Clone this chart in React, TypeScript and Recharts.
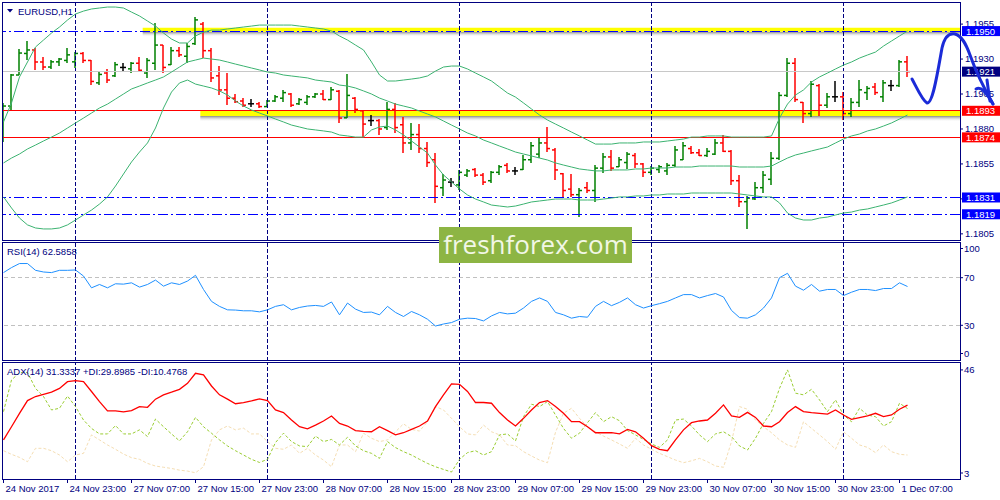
import React from "react";
import {
  ComposedChart,
  Bar,
  Line,
  XAxis,
  YAxis,
  ReferenceLine,
  ReferenceArea,
} from "recharts";

// EURUSD H1, 24 Nov 15:00 .. 1 Dec 08:00 (one entry per bar)
const xLabels = [
  "24 Nov 2017", "24 Nov 23:00", "27 Nov 07:00", "27 Nov 15:00", "27 Nov 23:00",
  "28 Nov 07:00", "28 Nov 15:00", "28 Nov 23:00", "29 Nov 07:00", "29 Nov 15:00",
  "29 Nov 23:00", "30 Nov 07:00", "30 Nov 15:00", "30 Nov 23:00", "1 Dec 07:00",
];
const labelBars = [0, 8, 16, 24, 32, 40, 48, 56, 64, 72, 80, 88, 96, 104, 112];
const daySeparators = [9, 33, 57, 81, 105];

const open = [
  1.1873, 1.18964, 1.19186, 1.1934, 1.19365, 1.19279, 1.19243, 1.1928, 1.1929, 1.1928,
  1.1934, 1.1929, 1.1913, 1.192, 1.1918, 1.1924, 1.1923, 1.1927, 1.192, 1.1927,
  1.194, 1.1926, 1.1936, 1.1932, 1.1941, 1.1955, 1.1936, 1.1918, 1.1908, 1.1902,
  1.19, 1.1898, 1.1898, 1.1896, 1.19, 1.1902, 1.1905, 1.1898, 1.1899, 1.1903,
  1.1905, 1.1901, 1.1907, 1.1888, 1.1902, 1.1893, 1.1886, 1.1886, 1.1881, 1.1894,
  1.1883, 1.187, 1.1876, 1.1866, 1.1858, 1.1838, 1.1842, 1.184, 1.1847, 1.1851,
  1.1847, 1.1843, 1.1849, 1.1854, 1.185, 1.1851, 1.1858, 1.1862, 1.187, 1.1865,
  1.1848, 1.1837, 1.1833, 1.1838, 1.1836, 1.1852, 1.186, 1.1853, 1.1856, 1.1861,
  1.1855, 1.1849, 1.1851, 1.185, 1.1854, 1.1858, 1.1866, 1.1863, 1.1861, 1.1862,
  1.187, 1.1864, 1.1843, 1.1828, 1.183, 1.1838, 1.1844, 1.1859, 1.1904, 1.1927,
  1.1899, 1.1891, 1.1911, 1.1897, 1.1903, 1.1903, 1.1891, 1.1899, 1.1906, 1.191,
  1.1903, 1.1911, 1.1911, 1.1928,
];
const high = [
  1.18986, 1.19193, 1.19372, 1.19429, 1.19379, 1.19314, 1.19293, 1.19307, 1.19379, 1.1935,
  1.1935, 1.19293, 1.19207, 1.19229, 1.19279, 1.19272, 1.19279, 1.19314, 1.19307, 1.19557,
  1.194, 1.19386, 1.19386, 1.19415, 1.19601, 1.19565, 1.19379, 1.1925, 1.192, 1.1905,
  1.19021, 1.19014, 1.18993, 1.19007, 1.19043, 1.19079, 1.19057, 1.19021, 1.19043, 1.19057,
  1.19079, 1.191, 1.19079, 1.19193, 1.19028, 1.18936, 1.189, 1.18871, 1.18993, 1.18986,
  1.18886, 1.18843, 1.18835, 1.18707, 1.18628, 1.18478, 1.18449, 1.18507, 1.18514, 1.18521,
  1.18485, 1.185, 1.18542, 1.18557, 1.18528, 1.18614, 1.18707, 1.18735, 1.18814, 1.18664,
  1.18485, 1.18478, 1.18378, 1.18421, 1.18542, 1.18628, 1.1865, 1.18599, 1.18635, 1.18628,
  1.18557, 1.18535, 1.18542, 1.18557, 1.18678, 1.18707, 1.18678, 1.18657, 1.18664, 1.18728,
  1.18757, 1.1865, 1.18471, 1.18321, 1.18421, 1.185, 1.18635, 1.19064, 1.19307, 1.19307,
  1.18993, 1.19143, 1.19121, 1.19057, 1.19143, 1.19064, 1.19021, 1.1915, 1.19107, 1.19129,
  1.1915, 1.1915, 1.19293, 1.19321,
];
const low = [
  1.18707, 1.18936, 1.19186, 1.19293, 1.19222, 1.19222, 1.19229, 1.1925, 1.19272, 1.19236,
  1.19272, 1.19114, 1.19114, 1.19129, 1.19172, 1.19207, 1.192, 1.19207, 1.19165, 1.19222,
  1.192, 1.19257, 1.19314, 1.19272, 1.194, 1.19307, 1.19136, 1.19043, 1.18971, 1.18986,
  1.18957, 1.18957, 1.1895, 1.18957, 1.18993, 1.18993, 1.18957, 1.18971, 1.18971, 1.19021,
  1.19007, 1.19007, 1.18843, 1.18878, 1.18914, 1.18742, 1.18821, 1.18757, 1.18793, 1.18771,
  1.18628, 1.1865, 1.18628, 1.18528, 1.18271, 1.18321, 1.18385, 1.18363, 1.18456, 1.18456,
  1.18399, 1.18414, 1.18471, 1.18485, 1.18471, 1.18507, 1.18557, 1.18592, 1.18635, 1.18435,
  1.18306, 1.18314, 1.1817, 1.18342, 1.18278, 1.18485, 1.185, 1.18528, 1.18514, 1.18521,
  1.18456, 1.18471, 1.18485, 1.18471, 1.18528, 1.18578, 1.18621, 1.18607, 1.186, 1.18614,
  1.18635, 1.18399, 1.18242, 1.18085, 1.18292, 1.18342, 1.18399, 1.18578, 1.19028, 1.18993,
  1.18843, 1.18886, 1.18893, 1.1895, 1.18993, 1.18864, 1.18886, 1.18957, 1.19007, 1.19043,
  1.18993, 1.19072, 1.191, 1.19172,
];
const close = [
  1.18964, 1.19186, 1.19343, 1.19365, 1.19279, 1.19243, 1.1928, 1.193, 1.1933, 1.1934,
  1.1929, 1.1914, 1.1919, 1.1915, 1.1926, 1.1924, 1.1927, 1.1922, 1.1929, 1.194,
  1.1924, 1.1936, 1.1933, 1.1939, 1.1958, 1.1936, 1.19165, 1.19079, 1.1902, 1.18995,
  1.1897, 1.1898, 1.1896, 1.19, 1.1903, 1.1906, 1.1897, 1.1901, 1.1903, 1.1905,
  1.1901, 1.1908, 1.18878, 1.1904, 1.1894, 1.18835, 1.1886, 1.188, 1.1894, 1.1881,
  1.187, 1.1876, 1.1866, 1.1856, 1.1839, 1.18435, 1.1842, 1.1849, 1.185, 1.1847,
  1.1842, 1.1849, 1.1853, 1.185, 1.185, 1.1858, 1.1868, 1.187, 1.1866, 1.18507,
  1.1836, 1.1833, 1.1836, 1.1836, 1.1852, 1.186, 1.1852, 1.1858, 1.1862, 1.1855,
  1.1849, 1.1852, 1.1853, 1.1854, 1.1865, 1.1868, 1.1863, 1.1861, 1.1864, 1.187,
  1.1864, 1.1843, 1.1828, 1.18306, 1.1838, 1.1847, 1.1859, 1.1904, 1.1927, 1.1901,
  1.1891, 1.1912, 1.1897, 1.1903, 1.1903, 1.1891, 1.1899, 1.1908, 1.1909, 1.1906,
  1.1913, 1.1911, 1.1928, 1.1921,
];

// Bollinger bands
const bbUpper = [
  1.1885, 1.18986, 1.19172, 1.19279, 1.19386, 1.19436, 1.19486, 1.19529, 1.19579, 1.19622,
  1.19643, 1.19658, 1.19665, 1.19672, 1.19672, 1.19665, 1.19636, 1.19608, 1.19572, 1.19536,
  1.19486, 1.19443, 1.19415, 1.19415, 1.19465, 1.19493, 1.19507, 1.19507, 1.19515, 1.19522,
  1.19529, 1.19536, 1.19543, 1.19543, 1.19543, 1.19543, 1.19543, 1.19536, 1.19529, 1.19522,
  1.19515, 1.195, 1.19465, 1.19436, 1.194, 1.19365, 1.19279, 1.19186, 1.19143, 1.19143,
  1.1915, 1.19157, 1.19165, 1.19179, 1.19214, 1.19243, 1.1925, 1.1925, 1.19229, 1.192,
  1.19172, 1.19143, 1.191, 1.19057, 1.19028, 1.18986, 1.18943, 1.189, 1.18864, 1.18835,
  1.18807, 1.18778, 1.1875, 1.18721, 1.18692, 1.18692, 1.18692, 1.187, 1.187, 1.187,
  1.18707, 1.18707, 1.18707, 1.18714, 1.18721, 1.18728, 1.18742, 1.18742, 1.1875, 1.1875,
  1.1875, 1.18742, 1.18742, 1.18742, 1.18742, 1.18742, 1.1875, 1.18878, 1.18978, 1.19043,
  1.19079, 1.19136, 1.19172, 1.192, 1.19229, 1.19257, 1.19279, 1.19307, 1.19329, 1.1935,
  1.19393, 1.19429, 1.19465, 1.195,
];
const bbMiddle = [
  1.18557, 1.18592, 1.18621, 1.18657, 1.18685, 1.18714, 1.18742, 1.18771, 1.18807, 1.18843,
  1.18878, 1.18914, 1.1895, 1.18978, 1.19014, 1.1905, 1.19086, 1.19107, 1.19129, 1.1915,
  1.19172, 1.19207, 1.19243, 1.19279, 1.19293, 1.19307, 1.193, 1.19293, 1.19279, 1.19264,
  1.1925, 1.19236, 1.19222, 1.19207, 1.192, 1.19186, 1.19179, 1.19172, 1.19165, 1.1915,
  1.19143, 1.19136, 1.19114, 1.19107, 1.19093, 1.19072, 1.1905, 1.19021, 1.19, 1.18978,
  1.18964, 1.1895, 1.18928, 1.18907, 1.18886, 1.18857, 1.18828, 1.188, 1.18771, 1.1875,
  1.18721, 1.187, 1.18678, 1.18657, 1.18635, 1.18621, 1.18607, 1.18592, 1.18578, 1.18557,
  1.18542, 1.18528, 1.18514, 1.18507, 1.185, 1.185, 1.18507, 1.18507, 1.18507, 1.18514,
  1.18514, 1.18521, 1.18521, 1.18521, 1.18528, 1.18528, 1.18528, 1.18535, 1.18535, 1.18535,
  1.18535, 1.18535, 1.18528, 1.18528, 1.18528, 1.18528, 1.18535, 1.18564, 1.18592, 1.18614,
  1.18628, 1.18643, 1.18657, 1.18671, 1.187, 1.18728, 1.1875, 1.18764, 1.18786, 1.188,
  1.18821, 1.18843, 1.18871, 1.189,
];
const bbLower = [
  1.18314, 1.18235, 1.18163, 1.18114, 1.18092, 1.18085, 1.18085, 1.18092, 1.18114, 1.18149,
  1.18185, 1.1822, 1.18263, 1.18314, 1.18392, 1.18478, 1.18564, 1.18635, 1.187, 1.18807,
  1.1895, 1.19064, 1.19129, 1.1915, 1.19121, 1.19107, 1.19093, 1.19072, 1.19043, 1.19,
  1.18964, 1.18936, 1.18914, 1.18893, 1.18871, 1.1885, 1.18828, 1.18814, 1.188, 1.18793,
  1.18786, 1.18778, 1.18757, 1.1875, 1.18742, 1.18742, 1.18793, 1.18814, 1.18821, 1.18793,
  1.18757, 1.18714, 1.18671, 1.18628, 1.18542, 1.18471, 1.18421, 1.18371, 1.18328, 1.18299,
  1.18278, 1.18256, 1.18249, 1.18242, 1.18249, 1.18263, 1.18278, 1.18285, 1.18292, 1.18299,
  1.18299, 1.18299, 1.18292, 1.18292, 1.18292, 1.18299, 1.18306, 1.18314, 1.18314, 1.18321,
  1.18321, 1.18328, 1.18328, 1.18335, 1.18335, 1.18335, 1.18342, 1.18342, 1.18342, 1.18342,
  1.18342, 1.18342, 1.18335, 1.18328, 1.18321, 1.18314, 1.18314, 1.18271, 1.18199, 1.18163,
  1.18149, 1.18149, 1.18163, 1.1817, 1.18185, 1.18199, 1.18206, 1.1822, 1.18228, 1.18242,
  1.18256, 1.18271, 1.18292, 1.18314,
];

const rsi = [
  74.3, 78.5, 81.9, 81.9, 76.2, 74.8, 74.3, 76.2, 76.2, 76.5,
  71.4, 61.5, 64.3, 61.5, 64.9, 64.6, 65.7, 62.1, 64.3, 68.0,
  62.9, 65.7, 64.3, 67.2, 72.0, 60.1, 50.1, 45.9, 43.0, 42.8,
  42.2, 42.2, 41.3, 43.0, 45.9, 47.3, 43.0, 45.0, 46.2, 46.7,
  45.9, 49.6, 38.8, 48.7, 43.6, 40.8, 41.1, 38.8, 45.9, 40.8,
  37.4, 41.6, 38.8, 35.1, 29.4, 31.1, 32.3, 35.1, 36.0, 35.7,
  33.7, 37.9, 40.8, 39.6, 40.2, 44.5, 50.1, 53.0, 50.1, 40.8,
  38.8, 36.0, 37.4, 36.8, 45.9, 50.1, 46.5, 49.3, 53.0, 47.3,
  44.5, 46.5, 48.2, 50.1, 53.0, 55.8, 55.8, 53.0, 55.0, 56.7,
  53.8, 42.5, 36.5, 36.0, 38.8, 44.5, 53.0, 70.0, 73.7, 62.9,
  59.5, 64.3, 58.7, 60.1, 60.1, 55.0, 57.8, 60.1, 60.1, 59.2,
  60.9, 60.9, 65.7, 62.6,
];
const adx = [
  16.8, 22.3, 27.9, 33.2, 34.9, 35.8, 36.7, 38.3, 41.1, 41.5,
  41.1, 37.0, 32.8, 28.9, 28.9, 28.5, 29.0, 30.7, 30.4, 33.8,
  35.6, 36.7, 37.9, 40.4, 44.6, 43.9, 39.3, 35.6, 33.8, 31.9,
  32.4, 33.1, 33.9, 33.2, 29.3, 28.2, 25.1, 22.3, 21.4, 23.0,
  24.7, 26.8, 23.7, 22.6, 20.7, 20.4, 20.2, 22.3, 20.7, 18.9,
  19.8, 21.2, 22.6, 24.7, 30.7, 35.6, 40.2, 40.0, 37.0, 32.4,
  32.4, 32.1, 28.2, 25.1, 22.6, 25.8, 29.3, 32.4, 33.2, 30.7,
  27.9, 24.4, 24.4, 22.3, 19.8, 19.8, 19.8, 19.3, 21.2, 20.2,
  17.5, 14.4, 12.9, 12.3, 16.8, 21.0, 24.0, 24.7, 25.1, 27.9,
  31.4, 26.8, 26.2, 28.3, 26.2, 22.6, 22.3, 24.4, 28.2, 30.7,
  28.6, 28.2, 27.9, 27.6, 29.3, 27.2, 25.4, 26.1, 26.8, 27.9,
  26.5, 27.2, 29.6, 31.3,
];
const plusDi = [
  28.6, 41.8, 44.9, 44.9, 38.3, 34.9, 29.3, 30.0, 35.1, 30.7,
  25.1, 21.6, 19.3, 19.3, 22.8, 19.3, 19.3, 21.0, 18.2, 25.5,
  22.3, 19.3, 16.4, 20.2, 26.2, 22.3, 19.6, 16.8, 14.3, 12.3,
  10.5, 8.7, 7.4, 8.7, 15.7, 19.6, 16.1, 14.3, 14.0, 18.4,
  16.1, 17.0, 14.7, 17.9, 14.3, 12.3, 11.2, 9.1, 16.1, 13.6,
  11.9, 10.5, 8.7, 7.0, 5.6, 4.5, 3.4, 8.7, 11.5, 12.3,
  10.5, 11.9, 18.9, 19.3, 16.4, 26.5, 31.7, 30.7, 32.8, 27.2,
  21.6, 17.5, 19.6, 24.0, 28.2, 24.4, 26.5, 24.8, 20.7, 18.9,
  17.0, 15.1, 13.7, 16.8, 25.1, 25.5, 22.6, 18.9, 16.1, 19.3,
  20.2, 18.2, 14.3, 12.6, 17.5, 23.7, 28.6, 38.3, 46.0, 36.3,
  35.6, 37.9, 33.5, 28.6, 33.5, 27.2, 24.4, 30.0, 27.2, 26.5,
  22.6, 24.4, 32.1, 29.9,
];
const minusDi = [
  12.3, 10.8, 9.5, 7.7, 13.3, 13.3, 12.3, 10.5, 7.7, 10.5,
  11.2, 18.9, 16.8, 14.7, 12.9, 10.9, 9.4, 8.7, 7.0, 5.9,
  5.4, 4.9, 4.2, 3.8, 3.1, 5.6, 16.8, 21.0, 22.6, 21.0,
  21.7, 19.3, 19.3, 16.1, 13.3, 12.9, 14.7, 11.2, 13.3, 10.5,
  8.4, 5.6, 14.7, 14.7, 11.9, 19.6, 17.5, 16.1, 16.8, 20.2,
  23.5, 21.2, 20.5, 24.4, 30.7, 29.3, 25.8, 22.3, 19.3, 18.9,
  23.0, 20.2, 18.9, 14.7, 14.4, 11.9, 10.1, 8.4, 7.3, 20.0,
  27.9, 30.0, 25.8, 22.3, 20.2, 18.4, 16.8, 15.1, 13.3, 17.5,
  14.7, 12.9, 11.2, 9.8, 8.4, 7.3, 8.1, 9.1, 7.7, 5.9,
  5.4, 16.1, 30.7, 29.6, 25.1, 22.3, 19.8, 16.8, 14.7, 13.7,
  24.4, 21.6, 18.9, 16.1, 12.9, 20.2, 17.5, 14.7, 13.7, 11.5,
  14.7, 11.9, 10.8, 10.5,
];

const priceTicks = [1.1805, 1.183, 1.1855, 1.188, 1.1905, 1.193, 1.1955];
const blueLevels = [1.195, 1.1831, 1.1819];
const redLevels = [1.1893, 1.1874];
const bidPrice = 1.1921;
// yellow zones: start bar, bottom/top price, shadow bottom
const zoneStart = [17.4, 24.6];
const zoneBottom = [1.19495, 1.18893];
const zoneTop = [1.19524, 1.18928];
const zoneShadow = [1.19459, 1.18852];
const rsiTicks = [0, 30, 70, 100];
const rsiLevels = [30, 70];
const adxTicks = [3, 46];

const NAVY = "#000080";
const FONT = "'Liberation Sans', Arial, sans-serif";
const X_MIN = -0.1875;
const X_MAX = 119.5625;

const data = open.map((o, i) => ({
  i,
  open: o,
  high: high[i],
  low: low[i],
  close: close[i],
  range: [low[i], high[i]],
  bbUp: bbUpper[i],
  bbMid: bbMiddle[i],
  bbLow: bbLower[i],
  rsi: rsi[i],
  adx: adx[i],
  plusDi: plusDi[i],
  minusDi: minusDi[i],
}));

function OhlcBar(props: any) {
  const { x, y, width, height, payload } = props;
  if (x == null || y == null || !payload) return null;
  const top = Math.min(y, y + height);
  const h = Math.abs(height);
  const span = payload.high - payload.low || 1e-9;
  const py = (v: number) => top + ((payload.high - v) / span) * h;
  const cx = x + width / 2;
  const color =
    payload.close > payload.open ? "#008000" : payload.close < payload.open ? "#ff0000" : "#000000";
  return (
    <g stroke={color} strokeWidth={1.5}>
      <line x1={cx} x2={cx} y1={top} y2={top + Math.max(h, 1)} />
      <line x1={cx - 3} x2={cx} y1={py(payload.open)} y2={py(payload.open)} />
      <line x1={cx} x2={cx + 3} y1={py(payload.close)} y2={py(payload.close)} />
    </g>
  );
}

function PriceTick(props: any) {
  const { x, y, payload } = props;
  const v = payload.value;
  const near = (a: number) => Math.abs(a - v) < 1e-7;
  let bg = "";
  if (blueLevels.some(near)) bg = "#0000ff";
  else if (redLevels.some(near)) bg = "#ff0000";
  else if (near(bidPrice)) bg = NAVY;
  if (bg) {
    return (
      <g>
        <rect x={x + 2} y={y - 5} width={38} height={10} fill={bg} />
        <text x={x + 6} y={y + 3.5} fill="#ffffff" fontSize={9.5} fontFamily={FONT}>
          {v.toFixed(4)}
        </text>
      </g>
    );
  }
  return (
    <g>
      <line x1={x} x2={x + 3} y1={y} y2={y} stroke={NAVY} />
      <text x={x + 5} y={y + 3} fill={NAVY} fontSize={9.5} fontFamily={FONT}>
        {v.toFixed(4)}
      </text>
    </g>
  );
}

function RsiTick(props: any) {
  const { x, y, payload } = props;
  const v = payload.value;
  const dy = v === 100 ? 6.5 : v === 0 ? -7.5 : 0;
  return (
    <g>
      <line x1={x} x2={x + 3} y1={y + dy} y2={y + dy} stroke={NAVY} />
      <text x={x + 4} y={y + dy + 3.5} fill={NAVY} fontSize={9.5} fontFamily={FONT}>
        {v}
      </text>
    </g>
  );
}

function AdxTick(props: any) {
  const { x, y, payload } = props;
  return (
    <g>
      <line x1={x} x2={x + 3} y1={y} y2={y} stroke={NAVY} />
      <text x={x + 4} y={y + 3.5} fill={NAVY} fontSize={9.5} fontFamily={FONT}>
        {payload.value}
      </text>
    </g>
  );
}

function TimeTick(props: any) {
  const { x, y, payload } = props;
  const label = xLabels[labelBars.indexOf(payload.value)];
  return (
    <g>
      <line x1={x} x2={x} y1={y} y2={y + 4} stroke={NAVY} />
      <text x={x + 2} y={y + 13} fill={NAVY} fontSize={9.5} fontFamily={FONT}>
        {label}
      </text>
    </g>
  );
}

const separators = daySeparators.map((d) => (
  <ReferenceLine key={"sep" + d} x={d} stroke={NAVY} strokeDasharray="4 2" shapeRendering="crispEdges" />
));

const paneBox = (top: number, height: number): React.CSSProperties => ({
  position: "absolute",
  left: 2,
  top,
  width: 959,
  height,
  border: `1px solid ${NAVY}`,
  boxSizing: "border-box",
  pointerEvents: "none",
});

export default function App() {
  return (
    <div style={{ position: "relative", width: 1000, height: 500, background: "#fff", overflow: "hidden" }}>
      <style>{"body{margin:0}"}</style>

      {/* price pane */}
      <div style={{ position: "absolute", left: 0, top: 0 }}>
        <ComposedChart width={1000} height={242} data={data} margin={{ top: 2, right: 0, bottom: 2, left: 2 }}>
          <defs>
            <linearGradient id="zoneShadow" x1="0" y1="0" x2="0" y2="1">
              <stop offset="0" stopColor="#7a7a7a" stopOpacity={0.9} />
              <stop offset="1" stopColor="#ffffff" stopOpacity={0} />
            </linearGradient>
          </defs>
          <XAxis type="number" dataKey="i" domain={[X_MIN, X_MAX]} allowDataOverflow hide />
          <YAxis
            orientation="right"
            width={40}
            type="number"
            domain={[1.18006, 1.19708]}
            allowDataOverflow
            ticks={[...priceTicks, ...redLevels, bidPrice, ...blueLevels]}
            interval={0}
            axisLine={false}
            tickLine={false}
            tickSize={0}
            tickMargin={0}
            tick={<PriceTick />}
          />
          {zoneStart.map((s, k) => (
            <ReferenceArea
              key={"shadow" + k}
              x1={s}
              x2={X_MAX}
              y1={zoneShadow[k]}
              y2={zoneBottom[k]}
              fill="url(#zoneShadow)"
              fillOpacity={1}
              stroke="none"
            />
          ))}
          {zoneStart.map((s, k) => (
            <ReferenceArea
              key={"zone" + k}
              x1={s}
              x2={X_MAX}
              y1={zoneBottom[k]}
              y2={zoneTop[k]}
              fill="#ffff00"
              fillOpacity={1}
              stroke="none"
            />
          ))}
          {separators}
          <ReferenceLine y={bidPrice} stroke="#c8c8c8" shapeRendering="crispEdges" />
          {redLevels.map((v) => (
            <ReferenceLine key={"r" + v} y={v} stroke="#ff0000" shapeRendering="crispEdges" />
          ))}
          {blueLevels.map((v) => (
            <ReferenceLine
              key={"b" + v}
              y={v}
              stroke="#0000ff"
              strokeDasharray="10 3 2 3"
              shapeRendering="crispEdges"
            />
          ))}
          <Line dataKey="bbUp" stroke="#3cb371" strokeWidth={1} dot={false} activeDot={false} isAnimationActive={false} />
          <Line dataKey="bbMid" stroke="#3cb371" strokeWidth={1} dot={false} activeDot={false} isAnimationActive={false} />
          <Line dataKey="bbLow" stroke="#3cb371" strokeWidth={1} dot={false} activeDot={false} isAnimationActive={false} />
          <Bar dataKey="range" barSize={7} shape={(p: any) => <OhlcBar {...p} />} isAnimationActive={false} />
        </ComposedChart>
      </div>

      {/* RSI pane */}
      <div style={{ position: "absolute", left: 0, top: 242 }}>
        <ComposedChart width={1000} height={119} data={data} margin={{ top: 0, right: 0, bottom: 0, left: 2 }}>
          <XAxis type="number" dataKey="i" domain={[X_MIN, X_MAX]} allowDataOverflow hide />
          <YAxis
            orientation="right"
            width={40}
            type="number"
            domain={[0, 100]}
            ticks={rsiTicks}
            interval={0}
            axisLine={false}
            tickLine={false}
            tickSize={0}
            tickMargin={0}
            tick={<RsiTick />}
          />
          {separators}
          {rsiLevels.map((v) => (
            <ReferenceLine key={"l" + v} y={v} stroke="#c0c0c0" strokeDasharray="4 3" shapeRendering="crispEdges" />
          ))}
          <Line dataKey="rsi" stroke="#1e90ff" strokeWidth={1} dot={false} activeDot={false} isAnimationActive={false} />
        </ComposedChart>
      </div>

      {/* ADX pane */}
      <div style={{ position: "absolute", left: 0, top: 362 }}>
        <ComposedChart width={1000} height={138} data={data} margin={{ top: 0, right: 0, bottom: 0, left: 2 }}>
          <XAxis
            type="number"
            dataKey="i"
            domain={[X_MIN, X_MAX]}
            allowDataOverflow
            height={21}
            ticks={labelBars}
            interval={0}
            axisLine={false}
            tickLine={false}
            tickSize={0}
            tickMargin={0}
            tick={<TimeTick />}
          />
          <YAxis
            orientation="right"
            width={40}
            type="number"
            domain={[0.5, 49.3]}
            allowDataOverflow
            ticks={adxTicks}
            interval={0}
            axisLine={false}
            tickLine={false}
            tickSize={0}
            tickMargin={0}
            tick={<AdxTick />}
          />
          {separators}
          <Line dataKey="minusDi" stroke="#f5deb3" strokeWidth={1} strokeDasharray="3 2" dot={false} activeDot={false} isAnimationActive={false} />
          <Line dataKey="plusDi" stroke="#9acd32" strokeWidth={1} strokeDasharray="3 2" dot={false} activeDot={false} isAnimationActive={false} />
          <Line dataKey="adx" stroke="#ff0000" strokeWidth={1.3} dot={false} activeDot={false} isAnimationActive={false} />
        </ComposedChart>
      </div>

      <div style={paneBox(2, 239)} />
      <div style={paneBox(242, 119)} />
      <div style={paneBox(362, 118)} />

      {/* watermark */}
      <div
        style={{
          position: "absolute",
          left: 439,
          top: 227,
          width: 193,
          height: 36,
          background: "#8db544",
          color: "#f2f7e6",
          fontFamily: "'Open Sans', sans-serif",
          fontSize: 26,
          lineHeight: "34px",
          textAlign: "center",
        }}
      >
        freshforex.com
      </div>

      {/* pane captions and the hand drawn arrow */}
      <svg width={1000} height={500} style={{ position: "absolute", left: 0, top: 0, pointerEvents: "none" }}>
        <polygon points="7,9 13,9 10,12.5" fill={NAVY} />
        <text x={18} y={14.5} fill={NAVY} fontSize={9.5} fontFamily={FONT}>
          EURUSD,H1
        </text>
        <text x={7} y={255} fill={NAVY} fontSize={9.5} fontFamily={FONT}>
          RSI(14) 62.5858
        </text>
        <text x={7} y={375} fill={NAVY} fontSize={9.5} fontFamily={FONT}>
          ADX(14) 31.3337 +DI:29.8985 -DI:10.4768
        </text>
        <g fill="none" stroke="#1b2bd8" strokeWidth={3} strokeLinecap="round" strokeLinejoin="round">
          <path d="M912,79 C917,88 922,100 927,103 C933,104 938,70 942,48 C945,35 950,33 955,34 C962,36 966,44 970,55 C976,72 985,90 993,104" />
          <path d="M976,89 C981,86 986,92 993,104" />
          <path d="M987,80 C988,88 989,95 990,101" />
        </g>
      </svg>
    </div>
  );
}
